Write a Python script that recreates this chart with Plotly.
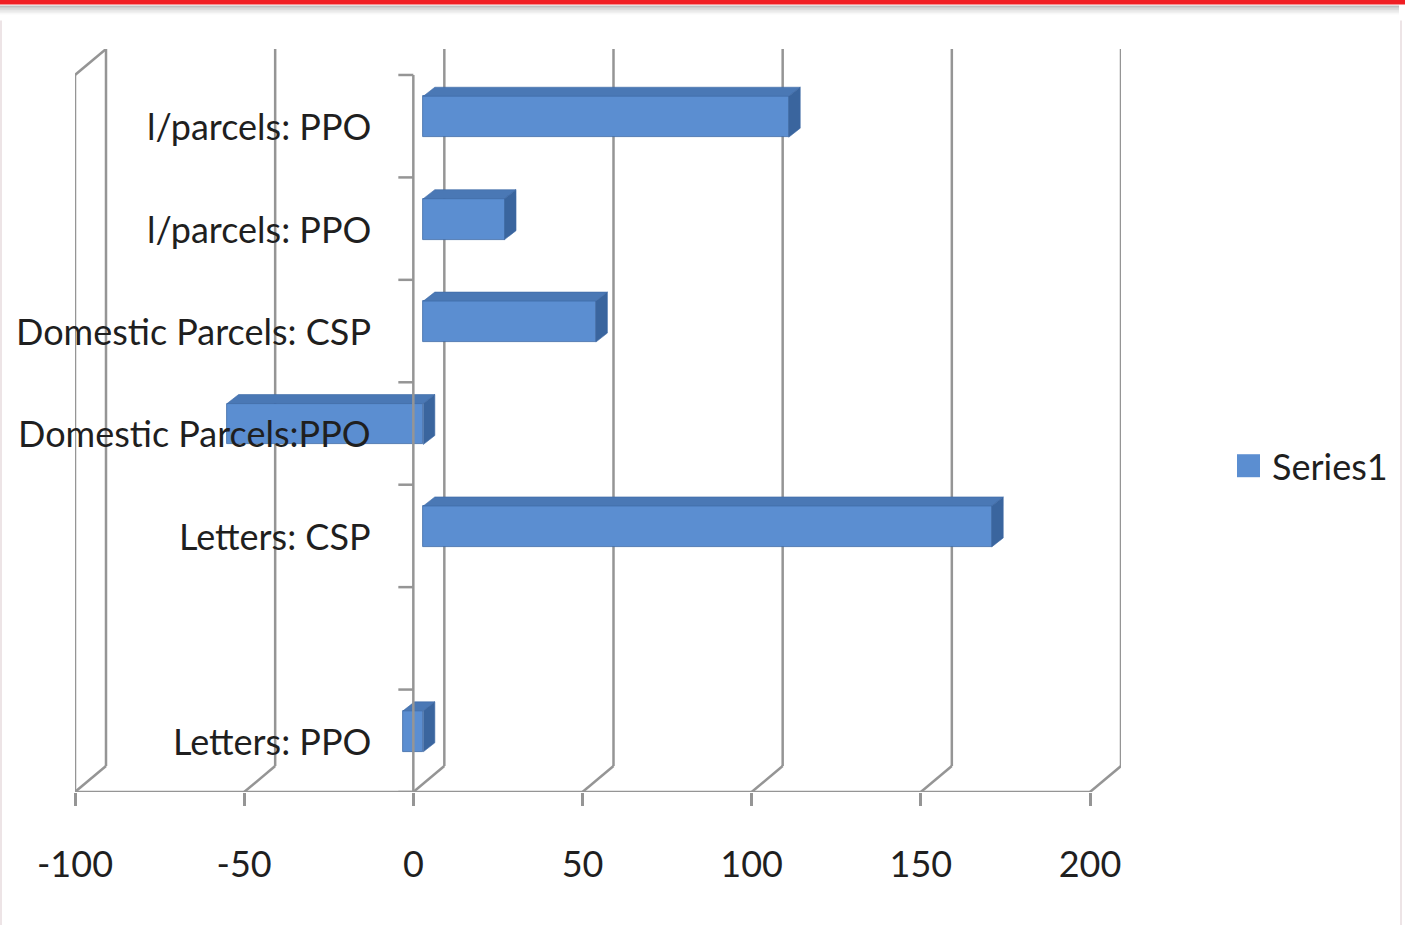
import plotly.graph_objects as go

# ---- data -------------------------------------------------------------
categories = [
    "Letters: PPO",
    "",
    "Letters: CSP",
    "Domestic Parcels:PPO",
    "Domestic Parcels: CSP",
    "l/parcels: PPO",
    "l/parcels: PPO",
]
series1 = [-6, None, 168, -58, 51, 24, 108]
x_ticks = [-100, -50, 0, 50, 100, 150, 200]
series_name = "Series1"

# ---- geometry of the pseudo-3D frame ------------------------------------
W, H = 1405, 925
L_PX, R_PX, T_PX, B_PX = 75, 1121, 48.5, 792          # plot area in pixels
XMIN, XMAX_TICK = x_ticks[0], x_ticks[-1]
KX = (1090 - 75) / (XMAX_TICK - XMIN)                 # px per x unit
NCAT = len(categories)
KY = (B_PX - 74.5) / NCAT                             # px per category slot

BX, BY = 31 / KX, 26 / KY        # offset of the back wall
FX, FY = 10 / KX, 9.5 / KY       # offset of the bar front faces
DX, DY = 11.5 / KX, 9 / KY       # depth of each bar
HALF = 0.2                       # half bar thickness (in category units)

XR = [XMIN, XMAX_TICK + BX]
YR = [0, NCAT + BY]

FRONT = "#5B8ED1"
TOP = "#4A78B5"
SIDE = "#3A659E"
EDGE = "#3E6AA6"
GRID = "#959595"
TEXT = "#1f1f1f"
FONT = "Lato"


def ppx(x):
    return (x - L_PX) / (R_PX - L_PX)


def ppy(y):
    return (B_PX - y) / (B_PX - T_PX)


fig = go.Figure()

# front faces of the bars
ys = [i + 0.5 + FY for i in range(NCAT)]
fig.add_trace(go.Bar(
    x=series1, y=ys, base=[FX] * NCAT, orientation="h", width=2 * HALF,
    marker=dict(color=FRONT, line=dict(color=EDGE, width=0.8)),
    name=series_name, showlegend=False, hoverinfo="x",
))

# top and end faces of each bar
for i, v in enumerate(series1):
    if v is None:
        continue
    x0 = FX + min(0, v)
    x1 = FX + max(0, v)
    yt = ys[i] + HALF
    yb = ys[i] - HALF
    fig.add_trace(go.Scatter(
        x=[x0, x1, x1 + DX, x0 + DX, x0], y=[yt, yt, yt + DY, yt + DY, yt],
        fill="toself", fillcolor=TOP, mode="lines",
        line=dict(color=EDGE, width=0.6), showlegend=False, hoverinfo="skip",
    ))
    fig.add_trace(go.Scatter(
        x=[x1, x1 + DX, x1 + DX, x1, x1], y=[yb, yb + DY, yt + DY, yt, yb],
        fill="toself", fillcolor=SIDE, mode="lines",
        line=dict(color=EDGE, width=0.6), showlegend=False, hoverinfo="skip",
    ))

shapes = []
gl = dict(color=GRID, width=2.5)

# back wall gridlines and floor diagonals
for t in x_ticks:
    shapes.append(dict(type="line", xref="x", yref="y", x0=t + BX, x1=t + BX,
                       y0=BY, y1=NCAT + BY, line=gl, layer="below"))
    shapes.append(dict(type="line", xref="x", yref="y", x0=t, x1=t + BX,
                       y0=0, y1=BY, line=gl, layer="below"))
# left side wall
shapes.append(dict(type="line", xref="x", yref="y", x0=XMIN, x1=XMIN,
                   y0=0, y1=NCAT, line=gl, layer="below"))
shapes.append(dict(type="line", xref="x", yref="y", x0=XMIN, x1=XMIN + BX,
                   y0=NCAT, y1=NCAT + BY, line=gl, layer="below"))
# value axis line along the front edge of the floor
shapes.append(dict(type="line", xref="x", yref="y", x0=XMIN, x1=XMAX_TICK,
                   y0=0, y1=0, line=gl, layer="below"))
# category axis at zero, in front of the bars
shapes.append(dict(type="line", xref="x", yref="y", x0=0, x1=0,
                   y0=0, y1=NCAT, line=gl, layer="above"))
for k in range(NCAT + 1):
    shapes.append(dict(type="line", xref="x", yref="y", x0=-15 / KX, x1=0,
                       y0=k, y1=k, line=gl, layer="above"))

# red rule and its shadow along the top of the page
shapes.append(dict(type="rect", xref="paper", yref="paper",
                   x0=ppx(0), x1=ppx(W), y0=ppy(4), y1=ppy(-2),
                   fillcolor="#F01E23", line=dict(width=0), layer="above"))
for j, op in enumerate([0.45, 0.35, 0.25, 0.17, 0.1, 0.05]):
    shapes.append(dict(type="rect", xref="paper", yref="paper",
                       x0=ppx(0), x1=ppx(W - 6), y0=ppy(5 + 1.5 * (j + 1)),
                       y1=ppy(5 + 1.5 * j), fillcolor="#707070", opacity=op,
                       line=dict(width=0), layer="above"))
# faint page edges
for xe in (1, W - 4):
    shapes.append(dict(type="line", xref="paper", yref="paper",
                       x0=ppx(xe), x1=ppx(xe), y0=ppy(20), y1=ppy(H),
                       line=dict(color="#EDE4E6", width=2)))

# legend swatch
shapes.append(dict(type="rect", xref="paper", yref="paper",
                   x0=ppx(1237), x1=ppx(1260), y0=ppy(477), y1=ppy(454),
                   fillcolor=FRONT, line=dict(width=0)))

annotations = []
for i, name in enumerate(categories):
    if not name:
        continue
    annotations.append(dict(
        x=0, y=i + 0.5, xref="x", yref="y", text=name, showarrow=False,
        xanchor="right", yanchor="middle", xshift=-40,
        font=dict(family=FONT, size=36, color=TEXT),
    ))
annotations.append(dict(
    x=ppx(1270), y=ppy(466), xref="paper", yref="paper", text=series_name,
    showarrow=False, xanchor="left", yanchor="middle",
    font=dict(family=FONT, size=36, color=TEXT),
))

fig.update_layout(
    width=W, height=H,
    margin=dict(l=L_PX, r=W - R_PX, t=T_PX, b=H - B_PX, pad=0),
    paper_bgcolor="white", plot_bgcolor="white",
    showlegend=False,
    xaxis=dict(range=XR, tickvals=x_ticks, ticktext=[str(t) for t in x_ticks],
               showgrid=False, zeroline=False, showline=False,
               ticks="outside", ticklen=13, tickwidth=2.5, tickcolor=GRID,
               ticklabelstandoff=28,
               tickfont=dict(family=FONT, size=36, color=TEXT)),
    yaxis=dict(range=YR, showgrid=False, zeroline=False, showline=False,
               showticklabels=False, ticks=""),
    shapes=shapes, annotations=annotations,
    bargap=0,
)

fig.write_html("out.html")
